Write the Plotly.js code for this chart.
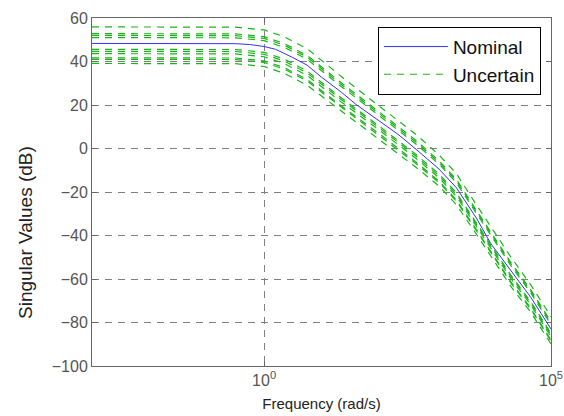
<!DOCTYPE html>
<html>
<head>
<meta charset="utf-8">
<script src="https://cdn.plot.ly/plotly-3.0.1.min.js"></script>
<style>html,body{margin:0;padding:0;background:#fff;}#chart{width:564px;height:416px;}</style>
</head>
<body>
<div id="chart"></div>
<script>
// log10 of frequency (rad/s)
const nominalLogFreq = [-3,-2,-1,-0.5,-0.25,0,0.2,0.35,0.5,0.75,1.0,1.35,1.6,2.0,2.35,2.65,3.05,3.35,3.7,3.95,4.3,4.65,5.0];
const nominalDb = [48.3,48.3,48.3,48.2,47.8,46.9,45.6,43.8,41.8,38.3,32.8,25.8,20.3,12.8,6.2,-0.4,-9.5,-18,-32,-43.7,-56,-68.5,-83];

const uncertainLogFreq = [-3,-0.5,0,0.35,0.75,1.35,2.0,2.65,3.05,3.35,3.7,4.3,4.65,5.0];
const uncertain1 = [55.9,55.8,54.5,51.4,45.9,33.0,19.6,6.4,-3.0,-11.5,-25.9,-49.9,-62.8,-77.3];
const uncertain2 = [52.8,52.7,51.4,48.3,42.8,30.1,16.9,3.7,-5.7,-14.2,-28.4,-52.4,-65.1,-79.6];
const uncertain3 = [52.0,51.9,50.6,47.5,42.0,29.3,16.1,2.9,-6.4,-14.9,-29.0,-53.0,-65.7,-80.2];
const uncertain4 = [51.0,50.9,49.6,46.5,41.0,28.4,15.2,2.0,-7.2,-15.7,-29.8,-53.8,-66.5,-81.0];
const uncertain5 = [45.6,45.5,44.2,41.1,35.6,23.2,10.4,-2.8,-11.8,-20.3,-34.2,-58.2,-70.5,-85.0];
const uncertain6 = [44.7,44.6,43.3,40.2,34.7,22.4,9.6,-3.6,-12.6,-21.1,-34.9,-58.9,-71.2,-85.7];
const uncertain7 = [43.6,43.5,42.2,39.1,33.6,21.3,8.6,-4.6,-13.5,-22.0,-35.8,-59.8,-72.0,-86.5];
const uncertain8 = [41.7,41.6,40.3,37.2,31.7,19.5,6.9,-6.3,-15.1,-23.6,-37.3,-61.3,-73.5,-88.0];
const uncertain9 = [41.0,40.9,39.6,36.5,31.0,18.9,6.2,-7.0,-15.7,-24.2,-37.8,-61.8,-74.0,-88.5];
const uncertain10 = [39.1,39.0,37.7,34.6,29.1,17.1,4.5,-8.7,-17.3,-25.8,-39.4,-63.4,-75.4,-89.9];

const xTickVals = [1, 100000];
const xTickText = ["10<sup>0</sup>", "10<sup>5</sup>"];
const yTickVals = [-100,-80,-60,-40,-20,0,20,40,60];

const toFreq = a => a.map(v => Math.pow(10, v));
const uncertainSets = [uncertain1,uncertain2,uncertain3,uncertain4,uncertain5,uncertain6,uncertain7,uncertain8,uncertain9,uncertain10];

const GREEN = '#19b419';
const traces = [{
  x: toFreq(nominalLogFreq), y: nominalDb, type: 'scatter', mode: 'lines',
  name: 'Nominal', showlegend: true,
  line: {color: '#3333ff', width: 1}
}];
uncertainSets.forEach((ys, i) => {
  traces.push({
    x: toFreq(uncertainLogFreq), y: ys, type: 'scatter', mode: 'lines',
    name: 'Uncertain', showlegend: i === 0,
    line: {color: GREEN, width: 1.2, dash: '7px,6px'}
  });
});

const axisFont = {family: 'Liberation Sans, Arial, sans-serif', size: 16, color: '#555555'};
const layout = {
  width: 564, height: 416,
  margin: {l: 92, r: 13, t: 18, b: 50},
  paper_bgcolor: '#ffffff', plot_bgcolor: '#ffffff',
  showlegend: true,
  legend: {
    x: 0.978, xanchor: 'right', y: 0.975, yanchor: 'top',
    bgcolor: '#ffffff', bordercolor: '#000000', borderwidth: 1,
    itemwidth: 64, traceorder: 'normal', tracegroupgap: 0,
    font: {family: 'Liberation Sans, Arial, sans-serif', size: 19, color: '#111111'}
  },
  xaxis: {
    type: 'log', range: [-3, 5],
    tickvals: xTickVals, ticktext: xTickText,
    ticks: 'inside', ticklen: 5, tickcolor: '#666666',
    showline: true, linecolor: '#666666', linewidth: 1, mirror: 'ticks',
    showgrid: true, gridcolor: '#808080', gridwidth: 1, griddash: '7px,6px',
    zeroline: false, tickfont: axisFont,
    title: {text: 'Frequency (rad/s)', standoff: 10,
      font: {family: 'Liberation Sans, Arial, sans-serif', size: 15, color: '#222222'}}
  },
  yaxis: {
    range: [-100, 60], tickvals: yTickVals,
    ticks: 'inside', ticklen: 5, tickcolor: '#666666',
    showline: true, linecolor: '#666666', linewidth: 1, mirror: 'ticks',
    showgrid: true, gridcolor: '#808080', gridwidth: 1, griddash: '7px,6px',
    zeroline: false, tickfont: axisFont
  },
  annotations: [{
    text: 'Singular Values (dB)', xref: 'paper', yref: 'paper',
    x: -0.146, y: 0.385, xanchor: 'center', yanchor: 'middle',
    textangle: -90, showarrow: false,
    font: {family: 'Liberation Sans, Arial, sans-serif', size: 19, color: '#222222'}
  }]
};

Plotly.newPlot('chart', traces, layout, {displayModeBar: false, staticPlot: true});
</script>
</body>
</html>
